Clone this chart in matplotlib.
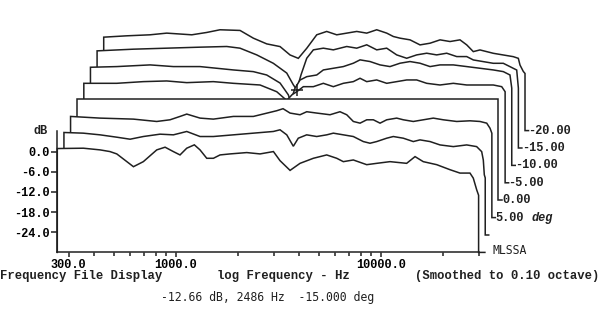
import numpy as np
import matplotlib
matplotlib.use("Agg")
import matplotlib.pyplot as plt
import matplotlib.transforms as mtransforms
from matplotlib.ticker import FixedLocator, NullFormatter

# ---------------- data (front trace first, back trace last) ----------------
f0 = [264, 354, 427, 477, 515, 621, 694, 807, 886, 972, 1048, 1130, 1231, 1312, 1415, 1525,
      1643, 1838, 2218, 2575, 2993, 3222, 3608, 4036, 4686, 5445, 6095, 6563, 7343, 8535,
      9553, 11090, 13370, 14690, 16110, 18740, 21770, 24330, 27230, 28260, 29370, 30000]
d0 = [0.9, 1.0, 0.5, 0.0, -0.7, -4.5, -3.0, 0.5, 1.3, 0.0, -1.0, 1.0, 2.0, 0.5, -2.0, -2.0,
      -1.0, -0.7, -0.3, -0.7, 0.0, -2.7, -5.6, -3.5, -2.0, -1.0, -2.0, -3.0, -2.5, -3.9,
      -3.5, -3.0, -3.5, -1.5, -3.0, -3.9, -5.4, -6.4, -6.4, -7.9, -11.4, -13.0]

f1 = [264, 328, 396, 478, 555, 644, 777, 903, 1049, 1218, 1414, 1771, 2217, 2776, 2992, 3227,
      3474, 3673, 4036, 4518, 5057, 5445, 6095, 6817, 7625, 8222, 8865, 9916, 10680, 11950,
      13370, 14420, 16140, 18050, 20960, 24360, 27240, 28830, 29360, 29690, 30000]
d1 = [0.5, 0.3, -0.2, -0.9, -1.5, -0.7, 0.0, -0.2, 0.8, -0.7, -0.7, -0.2, 0.3, 0.8, 1.3, -0.2,
      -3.6, -1.2, -0.2, -0.7, -0.2, 0.3, -0.2, -0.7, -2.2, -2.7, -2.2, -1.2, -0.7, -1.2,
      -2.2, -1.7, -2.2, -3.2, -3.7, -3.2, -3.7, -5.2, -7.7, -12.1, -13.0]

f2 = [264, 368, 535, 695, 807, 903, 974, 1131, 1313, 1644, 2058, 2677, 2873, 3108, 3477, 3749,
      4194, 4869, 5447, 5875, 6328, 6824, 7358, 7922, 8541, 9208, 10300, 11100, 12410, 13890,
      15540, 17380, 20210, 23470, 26260, 28310, 29380, 30000]
d2 = [0.1, -0.4, -0.7, -1.4, -0.9, 0.1, 0.8, -0.4, -0.7, 0.1, 0.1, 1.8, 2.4, 1.1, 0.6, 1.5,
      1.1, 0.6, 1.5, 0.6, -1.4, -1.9, -0.9, -0.9, -1.9, -0.9, -0.4, -0.9, -1.4, -0.9,
      -0.4, -0.9, -1.4, -1.2, -1.4, -1.9, -3.4, -4.9]

f3 = [264, 30000]
d3 = [0.0, 0.0]

f4 = [264, 382, 515, 670, 839, 1131, 1416, 1912, 2306, 2580, 2738, 2886, 3109, 3478, 3892, 4355,
      4872, 5451, 5877, 6337, 7089, 7933, 8876, 9931, 11110, 12430, 14430, 16760, 19490, 22620,
      26270, 28870, 30000]
d4 = [-0.4, -0.4, 0.1, 0.3, -0.2, 0.1, -0.4, -0.9, -2.9, -5.5, -3.8, -2.9, -1.4, -1.4, -0.4, -1.4,
      -0.4, 0.1, 1.1, 0.1, 0.6, -0.4, 0.1, 0.6, 0.6, -0.4, -0.9, -0.4, -0.9, -0.9,
      -0.9, -1.4, -2.9]

f5 = [264, 355, 516, 670, 904, 1315, 1645, 1912, 2222, 2438, 2499, 2630, 2781, 2998, 3355, 3613,
      4043, 4523, 5060, 5457, 6105, 6829, 7640, 8551, 9566, 10700, 11980, 13400, 15560, 18090,
      21000, 24390, 27290, 29410, 30000]
d5 = [-0.8, -0.6, -0.1, -0.6, -0.6, -1.6, -2.1, -3.1, -5.5, -9.0, -11.0, -7.0, -4.6, -3.6, -3.1, -1.6,
      -1.1, -0.6, 0.4, 1.4, 0.9, -0.1, -0.6, 0.4, 0.9, 0.4, -0.6, -0.1, -0.1, -0.6,
      -1.1, -1.6, -2.1, -3.1, -7.0]

f6 = [264, 397, 577, 840, 1133, 1315, 1587, 1912, 2223, 2394, 2487, 2611, 2783, 2998, 3354, 3752,
      4362, 4880, 5461, 6109, 6835, 7646, 8555, 9574, 10710, 11980, 13410, 15010, 16790, 18080,
      20230, 22630, 25320, 27310, 29440, 30000]
d6 = [-1.1, -0.6, -0.3, 0.0, 0.2, -0.3, -2.3, -4.8, -7.7, -11.2, -12.7, -8.2, -3.3, -0.8, -0.3, -0.8,
      0.2, -0.3, 0.7, -0.8, -0.3, -2.3, -3.3, -2.3, -1.8, -2.3, -1.8, -2.8, -2.8, -3.8,
      -4.3, -4.8, -4.8, -5.8, -6.8, -12.2]

f7 = [264, 342, 444, 536, 710, 840, 975, 1221, 1418, 1648, 1914, 2142, 2350, 2584, 2890, 3233,
      3618, 4049, 4530, 5069, 5671, 6345, 6832, 7368, 8244, 9223, 10320, 11550, 12920, 14450,
      15590, 16780, 18090, 21010, 23510, 26300, 27830, 28360, 29430, 30000]
d7 = [-2.2, -1.8, -1.5, -1.0, -1.5, -0.8, 0.0, -0.2, -2.5, -4.2, -5.0, -7.5, -8.5, -5.5, -1.5, -0.5,
      -1.5, -1.0, -0.5, -1.0, 0.0, -1.0, -2.0, -2.5, -3.0, -4.5, -4.0, -3.0, -3.5, -3.0,
      -4.5, -6.5, -6.0, -7.0, -7.5, -8.0, -8.5, -10.5, -12.4, -13.0]

freqs = [f0, f1, f2, f3, f4, f5, f6, f7]
dbs = [d0, d1, d2, d3, d4, d5, d6, d7]
trace_labels = ["MLSSA", "", "5.00", "0.00", "-5.00", "-10.00", "-15.00", "-20.00"]

x_major = [300, 1000, 10000]
x_major_labels = ["300.0", "1000.0", "10000.0"]
x_minor = [400, 500, 600, 700, 800, 900, 2000, 3000, 4000, 5000, 6000, 7000, 8000, 9000, 20000, 30000]
y_ticks = [0, -6, -12, -18, -24]
y_tick_labels = ["0.0", "-6.0", "-12.0", "-18.0", "-24.0"]

cursor_trace = 6
cursor_freq = 2487
cursor_db = -12.7

# ---------------- layout ----------------
W, H = 600, 328
DPI = 100
XMIN, XMAX = 264, 30000
YMIN, YMAX = -30, 6
DX_PX, DY_PX = 6.63, 17.4      # waterfall offset per trace (pixels)

MONO = ["Liberation Mono", "DejaVu Sans Mono"]
INK = "#202020"
LW = 1.1

fig = plt.figure(figsize=(W / DPI, H / DPI), dpi=DPI)
ax = fig.add_axes([57.3 / W, 75.6 / H, (478.6 - 57.3) / W, 121.0 / H])
ax.set_xscale("log")
ax.set_xlim(XMIN, XMAX)
ax.set_ylim(YMIN, YMAX)

for s in ["top", "right"]:
    ax.spines[s].set_visible(False)
for s in ["left", "bottom"]:
    ax.spines[s].set_color(INK)
    ax.spines[s].set_linewidth(LW)
    ax.spines[s].set_zorder(60)

ax.xaxis.set_major_locator(FixedLocator(x_major))
ax.set_xticklabels(x_major_labels, fontfamily=MONO, fontweight="bold", fontsize=8.6)
ax.xaxis.set_minor_locator(FixedLocator(x_minor))
ax.xaxis.set_minor_formatter(NullFormatter())
ax.set_yticks(y_ticks)
ax.set_yticklabels(y_tick_labels, fontfamily=MONO, fontweight="bold", fontsize=8.6)
ax.tick_params(axis="x", which="major", direction="out", length=3.5, width=LW, color=INK, pad=1.5)
ax.tick_params(axis="x", which="minor", direction="out", length=3.0, width=LW, color=INK)
ax.tick_params(axis="y", which="major", direction="out", length=4.0, width=LW, color=INK, pad=1.5)
ax.patch.set_alpha(0)

n = len(freqs)
for i in range(n - 1, -1, -1):
    tr = ax.transData + mtransforms.ScaledTranslation(i * DX_PX / DPI, i * DY_PX / DPI,
                                                      fig.dpi_scale_trans)
    f = list(freqs[i])
    d = list(dbs[i])
    xs = [f[0]] + f + [f[-1]]
    ys = [YMIN] + d + [YMIN]
    z = 10 + (n - i) * 3
    ax.fill(xs, ys, color="white", transform=tr, clip_on=False, zorder=z, lw=0)
    stub = (1.8 if i == 0 else 1.0) * 3.5
    lx = xs + [f[-1] * 10 ** (stub / 205.0)]
    ly = ys + [YMIN]
    ax.plot(lx, ly, color=INK, lw=LW, transform=tr, clip_on=False, zorder=z + 1,
            solid_joinstyle="miter")
    lab = trace_labels[i]
    if i == 0:
        ax.annotate(lab, xy=(f[-1], YMIN), xycoords=tr, xytext=(14, 2),
                    textcoords="offset pixels", ha="left", va="center",
                    fontfamily=["DejaVu Sans Mono"], fontsize=8.3, color=INK,
                    annotation_clip=False, zorder=80)
    elif lab:
        ax.annotate(lab, xy=(f[-1], YMIN), xycoords=tr, xytext=(3.5, 0),
                    textcoords="offset pixels", ha="left", va="center",
                    fontfamily=MONO, fontweight="bold", fontsize=8.6, color=INK,
                    annotation_clip=False, zorder=80)
        if lab == "5.00":
            ax.annotate("deg", xy=(f[-1], YMIN), xycoords=tr,
                        xytext=(3.5 + 5 * 7.2, 0), textcoords="offset pixels",
                        ha="left", va="center", fontfamily=MONO, fontstyle="italic",
                        fontweight="bold", fontsize=8.6, color=INK,
                        annotation_clip=False, zorder=80)

# cursor marker
trc = ax.transData + mtransforms.ScaledTranslation(cursor_trace * DX_PX / DPI,
                                                   cursor_trace * DY_PX / DPI,
                                                   fig.dpi_scale_trans)
ax.plot([cursor_freq], [cursor_db], marker="+", ms=8, mew=1.1, color=INK,
        transform=trc, clip_on=False, zorder=90)

# axis annotations
def ftext(x, y, s, **kw):
    fig.text(x / W, 1 - y / H, s, **kw)

ftext(48, 131.5, "dB", ha="right", va="center", fontfamily=MONO, fontweight="bold",
      fontsize=8.6, color=INK)
ftext(0, 276, "Frequency File Display", ha="left", va="center", fontfamily=MONO,
      fontweight="bold", fontsize=8.8, color=INK)
ftext(283, 276, "log Frequency - Hz", ha="center", va="center", fontfamily=MONO,
      fontweight="bold", fontsize=8.8, color=INK)
ftext(599, 276, "(Smoothed to 0.10 octave)", ha="right", va="center", fontfamily=MONO,
      fontweight="bold", fontsize=8.8, color=INK)
ftext(268, 297, "-12.66 dB, 2486 Hz  -15.000 deg", ha="center", va="center",
      fontfamily=["DejaVu Sans Mono"], fontsize=8.3, color=INK)

fig.savefig("out.png", dpi=DPI, facecolor="white")
